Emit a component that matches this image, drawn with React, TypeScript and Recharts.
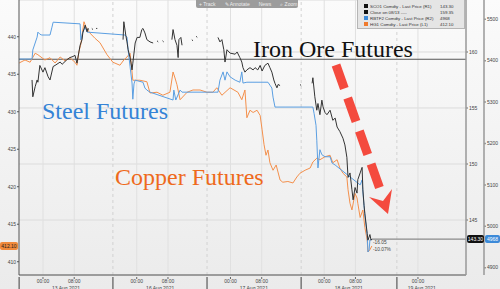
import React from 'react';
import {
  ComposedChart,
  Line,
  XAxis,
  YAxis,
  CartesianGrid,
  ReferenceLine,
} from 'recharts';

// time axis: hours since 13 Aug 00:00, weekend removed (16 Aug 00:00 = 24)
const hourTicks: [number, string][] = [
  [0, '00:00'], [8, '08:00'], [24, '00:00'], [32, '08:00'], [48, '00:00'],
  [56, '08:00'], [72, '00:00'], [80, '08:00'], [96, '00:00'],
];
const dateTicks: [number, string][] = [
  [5.9, '13 Aug 2021'], [30, '16 Aug 2021'], [54, '17 Aug 2021'], [78.3, '18 Aug 2021'], [97, '19 Aug 2021'],
];
const daySeparators = [-6.1, 17.9, 42, 66.1, 90.6];

const leftTicks = [410, 415, 420, 425, 430, 435, 440];
const r1Ticks = [145, 150, 155, 160];
const r2Ticks = [4900, 5000, 5100, 5200, 5300, 5400, 5500];

// HG1 copper (L1)
const copper: [number, number][] = [
  [-6.1, 436.5], [-4.6, 436.9], [-3.3, 436.6], [-2.0, 437.8], [-1.3, 437.6], [0.5, 436.9], [1.8, 437.2],
  [3.1, 436.5], [4.4, 437.3], [5.6, 436.8], [6.9, 437.2], [8.2, 436.6], [8.7, 436.2], [9.2, 438.0],
  [9.7, 439.0], [10.2, 440.9], [10.5, 442.0], [11.0, 441.3], [12.0, 440.5], [13.3, 439.8], [14.6, 439.2],
  [16.4, 437.6], [17.9, 436.6], [19.7, 436.2], [20.7, 436.9], [21.5, 437.3], [22.3, 437.8], [22.8, 435.3],
  [23.0, 434.2], [24.8, 434.2], [26.6, 434.0], [27.4, 432.5], [29.2, 432.6], [30.7, 432.2], [32.5, 432.6],
  [33.3, 435.3], [33.8, 434.5], [34.3, 433.6], [35.1, 431.6], [36.9, 432.6], [38.4, 432.9], [40.2, 432.9],
  [42.0, 432.6], [43.5, 432.6], [44.5, 433.2], [45.8, 432.2], [47.9, 433.2], [49.9, 432.6], [50.9, 431.6],
  [51.7, 432.9], [52.2, 429.2], [53.0, 430.2], [53.8, 429.9], [54.8, 430.2], [55.6, 429.5], [56.1, 427.6],
  [56.6, 425.6], [57.1, 424.2], [57.6, 424.9], [58.1, 423.2], [58.9, 422.2], [59.7, 422.9], [60.7, 420.9],
  [61.4, 420.6], [62.7, 420.7], [64.0, 420.5], [65.0, 421.3], [65.8, 421.8], [67.1, 422.2], [68.4, 422.5],
  [69.1, 423.3], [70.1, 423.8], [70.9, 423.6], [72.2, 424.0], [73.5, 424.2], [74.2, 423.2], [75.3, 423.6],
  [76.0, 422.5], [76.8, 421.8], [77.8, 421.3], [78.1, 419.6], [78.6, 417.8], [79.1, 416.9], [79.9, 419.1],
  [80.4, 418.5], [80.6, 417.8], [81.2, 415.9], [81.9, 416.9], [82.4, 414.6], [83.0, 412.9], [83.2, 411.3],
  [83.7, 411.6], [84.2, 412.1],
];

// RBTF2 steel rebar (R2)
const steel: [number, number][] = [
  [-6.1, 5404], [-2.8, 5404], [-2.6, 5426], [-1.5, 5457], [-1.3, 5469], [-0.8, 5464], [-0.3, 5462],
  [1.8, 5462], [2.3, 5481], [2.6, 5493], [9.5, 5489], [9.7, 5450], [10.2, 5469], [10.8, 5481], [11.3, 5469],
  [21.0, 5462], [21.5, 5457], [21.8, 5426], [22.3, 5385], [22.8, 5346], [23.0, 5307], [23.3, 5344],
  [23.6, 5353], [25.6, 5348], [26.1, 5334], [26.6, 5329], [27.4, 5324], [33.3, 5305], [33.5, 5329],
  [34.0, 5305], [35.1, 5329], [35.6, 5324], [44.8, 5324], [45.3, 5353], [46.1, 5373], [46.6, 5353],
  [47.1, 5373], [47.9, 5361], [49.2, 5353], [50.4, 5348], [50.9, 5373], [51.2, 5346], [52.2, 5348],
  [57.6, 5348], [58.1, 5341], [58.6, 5334], [58.9, 5312], [59.4, 5288], [69.1, 5288], [69.4, 5273],
  [69.9, 5244], [70.1, 5208], [70.4, 5141], [70.9, 5185], [71.4, 5173], [72.2, 5168], [73.5, 5168],
  [74.0, 5153], [74.8, 5148], [81.2, 5100], [81.7, 5112], [81.9, 5083], [82.4, 5027], [83.0, 4979],
  [83.2, 4938], [83.5, 4943], [83.7, 4967], [84.2, 4968],
];

// SCO1 iron ore (R1), null = no trades
const ironOre: [number, number | null][] = [
  [-2.8, 157.5], [-2.6, 156.0], [-2.0, 156.9], [-1.5, 157.5], [-1.3, 157.3], [-0.8, 158.8], [0, 158.2],
  [0.5, 158.6], [1.3, 157.8], [1.8, 157.5], [2.6, 158.7], [3.1, 158.8], [4.4, 159.1], [4.9, 158.9],
  [6.1, 159.3], [6.9, 159.5], [7.7, 159.6], [8.2, 159.7], [8.7, 159.0], [9.5, 160.6], [10.0, 161.1],
  [10.2, 161.7], [10.8, 162.4], [11.3, 161.8], [11.5, 162.1], [11.8, 162.0],
  [12.2, null], [12.5, 162.1], [12.8, 162.0], [13.2, null], [13.6, 162.1], [13.9, 162.1], [17, null],
  [20.5, 161.1], [20.7, 162.7], [21.2, 161.5], [21.5, 160.9], [21.8, 160.2], [22.3, 159.5], [22.5, 159.1],
  [22.8, 158.4], [23.0, 159.0], [23.6, 160.8], [24.1, 161.3], [24.8, 161.3], [25.3, 162.0], [25.6, 162.1],
  [26.1, 161.7], [26.6, 161.1], [27.4, 160.9], [28.2, 160.8],
  [28.7, null], [29.2, 161.0], [29.5, 160.9], [30.3, null], [30.6, 161.0], [30.9, 160.9], [32, null],
  [33.0, 161.1], [33.3, 162.0], [33.8, 161.1], [34.3, 160.6], [34.6, 159.5], [34.8, 161.1], [35.3, 161.3],
  [35.6, 160.6],
  [36.5, null], [38.1, 161.1], [38.4, 161.0], [38.8, null], [39.2, 161.4], [39.5, 161.3], [42, null],
  [44.8, 161.3], [45.3, 160.9], [45.8, 161.1], [46.3, 160.2], [46.6, 159.1], [47.1, 160.2], [47.9, 159.9],
  [49.2, 159.8], [49.7, 160.0], [50.4, 159.5], [50.9, 159.1], [51.2, 158.6], [51.7, 158.2], [52.2, 158.4],
  [53.0, 158.6], [53.8, 158.4], [54.3, 158.6], [55.0, 158.4], [55.6, 158.8], [56.1, 158.3], [56.8, 158.8],
  [57.6, 159.0], [58.1, 158.6], [58.6, 158.2], [59.1, 157.5], [59.4, 157.2], [59.9, 156.8], [60.2, 157.1],
  [60.7, 157.0],
  [63, null], [65.8, 157.1], [66.1, 157.0], [67, null],
  [68.9, 157.2], [69.1, 157.7], [69.6, 156.0], [70.1, 154.8], [70.4, 155.4], [70.9, 154.4], [71.4, 155.7],
  [71.7, 155.1], [72.2, 154.6], [72.7, 154.4], [73.5, 154.8], [74.2, 153.9], [74.8, 154.1], [75.3, 153.3],
  [76.0, 152.9], [76.8, 152.3], [77.3, 151.7], [77.8, 150.6], [78.1, 148.8], [78.6, 149.2], [79.1, 147.7],
  [79.4, 146.8], [79.9, 147.9], [80.4, 147.4], [80.6, 148.6], [81.2, 149.2], [81.7, 149.7], [81.9, 147.7],
  [82.2, 146.3], [82.4, 145.6], [83.0, 143.8], [83.2, 143.2], [83.7, 143.7], [84.0, 143.2], [84.2, 143.3],
];

const closeOn0813 = 159.35;
const lastIron = 143.3;
const lastSteel = 4968;
const lastCopper = 412.1;
const lastT = 84.2;
const xEnd = 108.3;

const legendRows: [string, string, string][] = [
  ['#111', 'SCO1 Comdty - Last Price (R1)', '143.30'],
  ['#111', 'Close on 08/13 ----', '159.35'],
  ['#3c8ad8', 'RBTF2 Comdty - Last Price (R2)', '4968'],
  ['#f07a2c', 'HG1 Comdty - Last Price (L1)', '412.10'],
];

const toRows = (pts: [number, number | null][]) => pts.map(([t, v]) => ({ t, v }));

const hourMap = new Map(hourTicks);
const dateMap = new Map(dateTicks);
const allXTicks = [...hourTicks.map((h) => h[0]), ...dateTicks.map((d) => d[0]), ...daySeparators].sort(
  (a, b) => a - b
);

const TimeTick = (props: any) => {
  const { x, y, payload } = props;
  const v = payload.value;
  if (hourMap.has(v)) {
    return (
      <g>
        <line x1={x} x2={x} y1={y} y2={y + 2} stroke="#666" />
        <text x={x} y={y + 6} fontSize={5} fill="#444" textAnchor="middle">
          {hourMap.get(v)}
        </text>
      </g>
    );
  }
  if (dateMap.has(v)) {
    return (
      <text x={x} y={y + 12.5} fontSize={5} fill="#444" textAnchor="middle">
        {dateMap.get(v)}
      </text>
    );
  }
  return <line x1={x} x2={x} y1={y} y2={y + 14} stroke="#777" strokeWidth={1.5} />;
};

const axisTick = { fontSize: 5, fill: '#444' };

export default function App() {
  return (
    <div
      style={{
        position: 'absolute',
        left: 0,
        top: 0,
        width: 500,
        height: 289,
        overflow: 'hidden',
        background: 'linear-gradient(#fbfbfb, #ebebeb)',
        fontFamily: '"Liberation Sans", Arial, sans-serif',
      }}
    >
      <ComposedChart width={500} height={289} margin={{ top: 0, right: 0, bottom: 0, left: 0 }}>
        <CartesianGrid yAxisId="r1" vertical={false} stroke="#dcdcdc" />
        <XAxis
          type="number"
          dataKey="t"
          domain={[-6.14, xEnd]}
          allowDataOverflow
          ticks={allXTicks}
          interval={0}
          tick={TimeTick}
          tickLine={false}
          tickSize={0}
          height={14}
          stroke="#555"
        />
        <YAxis
          yAxisId="l1"
          orientation="left"
          width={19}
          domain={[408.23, 444.9]}
          ticks={leftTicks}
          allowDataOverflow
          tick={axisTick}
          tickSize={2}
          tickMargin={1}
          stroke="#555"
        />
        <YAxis
          yAxisId="r1"
          orientation="right"
          width={18}
          domain={[140.09, 164.64]}
          ticks={r1Ticks}
          allowDataOverflow
          tick={axisTick}
          tickSize={2}
          tickMargin={1}
          stroke="#999"
          strokeWidth={1.5}
        />
        <YAxis
          yAxisId="r2"
          orientation="right"
          width={16}
          domain={[4882.4, 5546.6]}
          ticks={r2Ticks}
          allowDataOverflow
          tick={axisTick}
          tickSize={2}
          tickMargin={1}
          stroke="#999"
          strokeWidth={1.5}
        />
        {hourTicks.map(([t]) => (
          <ReferenceLine key={'g' + t} yAxisId="r1" x={t} stroke="#e0e0e0" />
        ))}
        {daySeparators.slice(1).map((t) => (
          <ReferenceLine key={'s' + t} yAxisId="r1" x={t} stroke="#d2d2d2" strokeDasharray="3 3" />
        ))}
        <ReferenceLine yAxisId="r1" y={closeOn0813} stroke="#555" strokeWidth={1} />
        <ReferenceLine
          yAxisId="r1"
          segment={[
            { x: lastT, y: lastIron },
            { x: xEnd, y: lastIron },
          ]}
          stroke="#8a8a8a"
          strokeWidth={1.2}
        />
        <Line
          yAxisId="l1"
          data={toRows(copper)}
          dataKey="v"
          stroke="#f4904c"
          strokeWidth={1}
          dot={false}
          isAnimationActive={false}
        />
        <Line
          yAxisId="r2"
          data={toRows(steel)}
          dataKey="v"
          stroke="#5b9fe2"
          strokeWidth={1}
          dot={false}
          isAnimationActive={false}
        />
        <Line
          yAxisId="r1"
          data={toRows(ironOre)}
          dataKey="v"
          stroke="#333"
          strokeWidth={1}
          dot={false}
          connectNulls={false}
          isAnimationActive={false}
        />
      </ComposedChart>

      {/* annotations */}
      <svg width={500} height={289} style={{ position: 'absolute', left: 0, top: 0, pointerEvents: 'none' }}>
        <g fontFamily='"Liberation Serif", "Times New Roman", serif' fontSize={24}>
          <text x={253} y={57} fill="#111">Iron Ore Futures</text>
          <text x={42} y={119} fill="#3583d6">Steel Futures</text>
          <text x={115} y={185} fill="#ee6a1c">Copper Futures</text>
        </g>
        <line x1={336} y1={65} x2={381} y2={192} stroke="#f44a3e" strokeWidth={9} strokeDasharray="25 10" />
        <polygon points="392,189 388,214 369,197 383,201" fill="#f44a3e" />
        <g fontSize={4.8} fill="#444">
          <text x={373} y={244}>-16.05</text>
          <text x={373} y={251}>-10.07%</text>
        </g>
      </svg>

      {/* toolbar */}
      <div
        style={{
          position: 'absolute',
          left: 196,
          top: 0,
          width: 102,
          height: 8,
          background: '#9c9c9c',
          color: '#eee',
          fontSize: 5,
          display: 'flex',
          gap: 9,
          alignItems: 'center',
          paddingLeft: 3,
          boxSizing: 'border-box',
          borderRadius: '0 0 2px 2px',
        }}
      >
        <span>+ Track</span>
        <span>✎ Annotate</span>
        <span>News</span>
        <span>⌕ Zoom</span>
      </div>

      {/* legend */}
      <div
        style={{
          position: 'absolute',
          left: 357,
          top: 0,
          width: 108,
          height: 29,
          background: '#e5e5e5',
          border: '1px solid #b5b5b5',
          borderTop: 'none',
          boxSizing: 'border-box',
          fontSize: 4.4,
          color: '#333',
          paddingTop: 3,
        }}
      >
        {legendRows.map(([c, name, val]) => (
          <div key={name} style={{ display: 'flex', alignItems: 'center', height: 6 }}>
            <span style={{ width: 4, height: 4, background: c, marginLeft: 6, marginRight: 2, flexShrink: 0 }} />
            <span style={{ width: 70, whiteSpace: 'nowrap', overflow: 'hidden', flexShrink: 0 }}>{name}</span>
            <span style={{ whiteSpace: 'nowrap' }}>{val}</span>
          </div>
        ))}
      </div>

      {/* last price tags */}
      <div style={{ position: 'absolute', left: 0, top: 242, width: 18, height: 8, background: '#f08a3c', color: '#222', fontSize: 5, lineHeight: '8px', textAlign: 'center', borderRadius: 2 }}>
        {lastCopper.toFixed(2)}
      </div>
      <div style={{ position: 'absolute', left: 467, top: 235, width: 17, height: 8, background: '#111', color: '#fff', fontSize: 5, lineHeight: '8px', textAlign: 'center', borderRadius: 2 }}>
        {lastIron.toFixed(2)}
      </div>
      <div style={{ position: 'absolute', left: 485, top: 235, width: 15, height: 8, background: '#3c8ad8', color: '#fff', fontSize: 5, lineHeight: '8px', textAlign: 'center', borderRadius: 2 }}>
        {lastSteel}
      </div>
    </div>
  );
}
